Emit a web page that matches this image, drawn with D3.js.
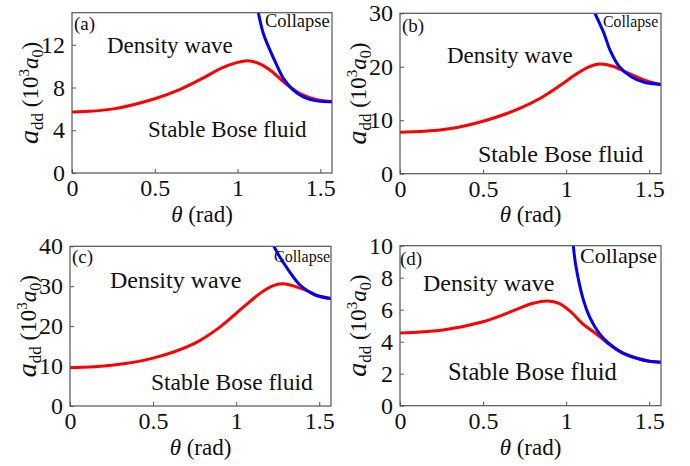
<!DOCTYPE html>
<html><head><meta charset="utf-8">
<script src="https://cdn.jsdelivr.net/npm/d3@7"></script>
<style>
body{margin:0;background:#fff;}
svg text{font-family:"Liberation Serif",Tinos,"Times New Roman","DejaVu Serif",serif !important;fill:#111;}
</style></head>
<body><svg id="c" width="690" height="466"></svg>
<script>
// ---- data (theta in rad, a_dd in 10^3 a0) ----
const redA  = [[0,5.7],[0.25,6.0],[0.5,6.95],[0.65,7.8],[0.8,8.95],[0.9,9.8],[1.0,10.35],[1.06,10.5],[1.12,10.3],[1.2,9.6],[1.28,8.5],[1.38,7.4],[1.48,6.85],[1.571,6.66]];
const blueA = [[1.126,15],[1.156,13.05],[1.196,11.5],[1.237,10.1],[1.277,8.85],[1.337,7.76],[1.40,7.1],[1.48,6.75],[1.571,6.66]];
const redB  = [[0,7.75],[0.25,8.2],[0.45,9.4],[0.6,10.8],[0.72,12.2],[0.85,14.2],[0.95,16.2],[1.05,18.4],[1.13,19.9],[1.2,20.5],[1.28,20.1],[1.36,19.0],[1.44,17.9],[1.51,17.1],[1.571,16.7]];
const blueB = [[1.173,30],[1.227,26.3],[1.264,23.1],[1.32,20.0],[1.394,18.1],[1.47,17.1],[1.571,16.7]];
const redC  = [[0,9.6],[0.25,10.2],[0.5,12.0],[0.75,15.7],[0.9,19.7],[1.05,25.0],[1.15,28.4],[1.22,30.1],[1.28,30.6],[1.38,29.6],[1.45,28.4],[1.5,27.5],[1.571,26.9]];
const blueC = [[1.227,40],[1.26,37.5],[1.307,34.5],[1.384,30.3],[1.44,28.6],[1.474,27.8],[1.571,26.9]];
const redD  = [[0,4.55],[0.25,4.72],[0.5,5.25],[0.65,5.8],[0.8,6.4],[0.89,6.55],[0.96,6.38],[1.03,5.85],[1.1,5.12],[1.18,4.5],[1.25,3.9],[1.33,3.35],[1.42,2.98],[1.5,2.78],[1.571,2.72]];
const blueD = [[1.043,10],[1.059,8.7],[1.103,6.63],[1.143,5.5],[1.2,4.5],[1.25,3.95],[1.33,3.35],[1.42,2.98],[1.5,2.78],[1.571,2.72]];
const xTicks = [0,0.5,1,1.5];
const yTicksA = [0,4,8,12], yTicksB = [0,10,20,30], yTicksC = [0,10,20,30,40], yTicksD = [0,2,4,6,8,10];
const yMax = [15,30,40,10];
const panelLabels = ["(a)","(b)","(c)","(d)"];

const panels = [
 {x0:72, x1:332, y0:12.7, y1:173, ymax:yMax[0], yt:yTicksA, red:redA, blue:blueA, lab:panelLabels[0],
  labP:[74,30,19], dw:[107,53,23], sb:[148,137,23], col:[265,27,18.5], ylx:30, xlb:222},
 {x0:400, x1:661, y0:13.3, y1:173.7, ymax:yMax[1], yt:yTicksB, red:redB, blue:blueB, lab:panelLabels[1],
  labP:[402,32,19], dw:[447,63,23], sb:[478,162,24], col:[603,27,15.8], ylx:358, xlb:222},
 {x0:70, x1:331, y0:246.3, y1:406, ymax:yMax[2], yt:yTicksC, red:redC, blue:blueC, lab:panelLabels[2],
  labP:[72,263,19], dw:[110,288,24], sb:[151,390,23.5], col:[274,262,16], ylx:28, xlb:455},
 {x0:400, x1:661, y0:245.7, y1:405.7, ymax:yMax[3], yt:yTicksD, red:redD, blue:blueD, lab:panelLabels[3],
  labP:[400,265,19], dw:[423,291,24], sb:[448,380,24.5], col:[580,263,22], ylx:358, xlb:455}
];

const svg = d3.select("#c");
panels.forEach((p,i)=>{
  const x = d3.scaleLinear().domain([0,Math.PI/2]).range([p.x0,p.x1]);
  const y = d3.scaleLinear().domain([0,p.ymax]).range([p.y1,p.y0]);
  const g = svg.append("g");
  const cid = "clip"+i;
  svg.append("clipPath").attr("id",cid).append("rect")
     .attr("x",p.x0).attr("y",p.y0).attr("width",p.x1-p.x0).attr("height",p.y1-p.y0);
  const xa = g.append("g").attr("transform",`translate(0,${p.y1})`)
    .call(d3.axisBottom(x).tickValues(xTicks).tickSizeInner(-4).tickSizeOuter(0).tickPadding(8).tickFormat(d=>d));
  const ya = g.append("g").attr("transform",`translate(${p.x0},0)`)
    .call(d3.axisLeft(y).tickValues(p.yt).tickSizeInner(-4).tickSizeOuter(0).tickPadding(7));
  [xa,ya].forEach(a=>{
    a.attr("font-family",null).attr("font-size",null);
    a.select(".domain").remove();
    a.selectAll("line").attr("stroke","#555");
    a.selectAll("text").style("font-size","24px").attr("fill","#111");
  });
  xa.selectAll("text").attr("dy","0.62em");
  const line = d3.line().x(d=>x(d[0])).y(d=>y(d[1])).curve(d3.curveCatmullRom.alpha(0.5));
  const lg = g.append("g").attr("clip-path",`url(#${cid})`);
  lg.append("path").attr("d",line(p.red)).attr("fill","none").attr("stroke","#f00").attr("stroke-width",3);
  lg.append("path").attr("d",line(p.blue)).attr("fill","none").attr("stroke","#00f").attr("stroke-width",3);
  g.append("rect").attr("x",p.x0).attr("y",p.y0).attr("width",p.x1-p.x0).attr("height",p.y1-p.y0)
    .attr("fill","none").attr("stroke","#555").attr("stroke-width",1.2);
  const t = (arr,s)=>g.append("text").attr("x",arr[0]).attr("y",arr[1]).style("font-size",arr[2]+"px").text(s);
  t(p.labP,p.lab);
  t(p.dw,"Density wave");
  t(p.sb,"Stable Bose fluid");
  t(p.col,"Collapse");
  const xl = g.append("text").attr("x",(p.x0+p.x1)/2).attr("y",p.xlb).attr("text-anchor","middle").style("font-size","23px");
  xl.append("tspan").style("font-style","italic").text("θ");
  xl.append("tspan").text(" (rad)");
  const yc = (p.y0+p.y1)/2;
  const yl = g.append("text").attr("transform",`translate(${p.ylx+8},${yc}) rotate(-90)`).attr("text-anchor","middle").style("font-size","23px");
  yl.append("tspan").style("font-style","italic").style("font-size","28px").text("a");
  yl.append("tspan").attr("dy","5").style("font-size","17px").text("dd");
  yl.append("tspan").attr("dy","-5").text(" (10");
  yl.append("tspan").attr("dy","-9").style("font-size","15px").text("3");
  yl.append("tspan").attr("dy","9").style("font-style","italic").text("a");
  yl.append("tspan").attr("dy","5").style("font-size","16px").text("0");
  yl.append("tspan").attr("dy","-5").text(")");
});
</script></body></html>
